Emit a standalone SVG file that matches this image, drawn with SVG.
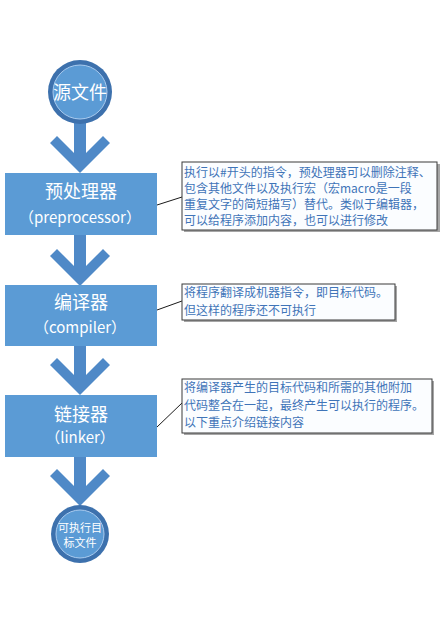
<svg xmlns="http://www.w3.org/2000/svg" width="441" height="631" viewBox="0 0 441 631">
<style>
.bg{fill:#ffffff}
.box{fill:#5b9bd5}
.arrow{fill:#4f89c7}
.ring{fill:#3d71ad}
.inner{fill:#5b9bd5;stroke:#a9cbef;stroke-width:1}
.t{font-family:"Noto Sans CJK SC","Noto Sans",sans-serif;fill:#ffffff;text-anchor:middle}
.title{font-size:18px}
.sub{font-size:15px}
.shadow{fill:#a6a6a6}
.call{fill:#fbfdff;stroke:#3a3a3a;stroke-width:1}
.ct{font-family:"Noto Sans CJK SC","Noto Sans",sans-serif;font-size:12px;fill:#3f74b8}
.conn{stroke:#1a1a1a;stroke-width:1;fill:none}
</style>
<defs>
<g id="downArrow">
<rect class="arrow" x="-6" y="-52" width="12" height="40"/>
<polygon class="arrow" points="0,0 -30,-30 -23,-37 0,-14 23,-37 30,-30"/>
</g>
</defs>
<rect class="bg" x="0" y="0" width="441" height="631"/>

<g id="arrows">
<use href="#downArrow" x="80" y="173"/>
<use href="#downArrow" x="80" y="286"/>
<use href="#downArrow" x="80" y="395"/>
<use href="#downArrow" x="80" y="506"/>
</g>

<g id="connectors">
<line class="conn" x1="157" y1="205" x2="182" y2="197"/>
<line class="conn" x1="157" y1="310" x2="182" y2="301"/>
<line class="conn" x1="157" y1="427" x2="182" y2="403"/>
</g>

<g id="source">
<circle class="ring" cx="80" cy="92" r="32"/>
<circle class="inner" cx="80" cy="92" r="27"/>
<text class="t title" x="80" y="99">源文件</text>
</g>

<g id="preprocessor">
<rect class="box" x="5" y="173" width="152" height="62"/>
<text class="t title" x="81" y="198">预处理器</text>
<text class="t sub" x="80" y="223">（preprocessor）</text>
</g>

<g id="compiler">
<rect class="box" x="5" y="285" width="152" height="61"/>
<text class="t title" x="81" y="309">编译器</text>
<text class="t sub" x="80" y="333">（compiler）</text>
</g>

<g id="linker">
<rect class="box" x="5" y="395" width="152" height="62"/>
<text class="t title" x="81" y="421">链接器</text>
<text class="t sub" x="80" y="443">（linker）</text>
</g>

<g id="target">
<circle class="ring" cx="80" cy="534" r="29"/>
<circle class="inner" cx="80" cy="534" r="24"/>
<text class="t" style="font-size:11px" x="80" y="532">可执行目</text>
<text class="t" style="font-size:11px" x="80" y="547">标文件</text>
</g>

<g id="note1">
<rect class="shadow" x="184" y="164" width="256" height="68"/>
<rect class="call" x="182" y="162" width="255" height="68"/>
<text class="ct" x="184" y="177">执行以#开头的指令，预处理器可以删除注释、</text>
<text class="ct" x="184" y="193">包含其他文件以及执行宏（宏macro是一段</text>
<text class="ct" x="184" y="209">重复文字的简短描写）替代。类似于编辑器，</text>
<text class="ct" x="184" y="225">可以给程序添加内容，也可以进行修改</text>
</g>

<g id="note2">
<rect class="shadow" x="184" y="286" width="213" height="36"/>
<rect class="call" x="182" y="284" width="213" height="36"/>
<text class="ct" x="184" y="297">将程序翻译成机器指令，即目标代码。</text>
<text class="ct" x="184" y="315">但这样的程序还不可执行</text>
</g>

<g id="note3">
<rect class="shadow" x="184" y="381" width="250" height="54"/>
<rect class="call" x="182" y="379" width="250" height="54"/>
<text class="ct" x="184" y="392">将编译器产生的目标代码和所需的其他附加</text>
<text class="ct" x="184" y="410">代码整合在一起，最终产生可以执行的程序。</text>
<text class="ct" x="184" y="427">以下重点介绍链接内容</text>
</g>
</svg>
